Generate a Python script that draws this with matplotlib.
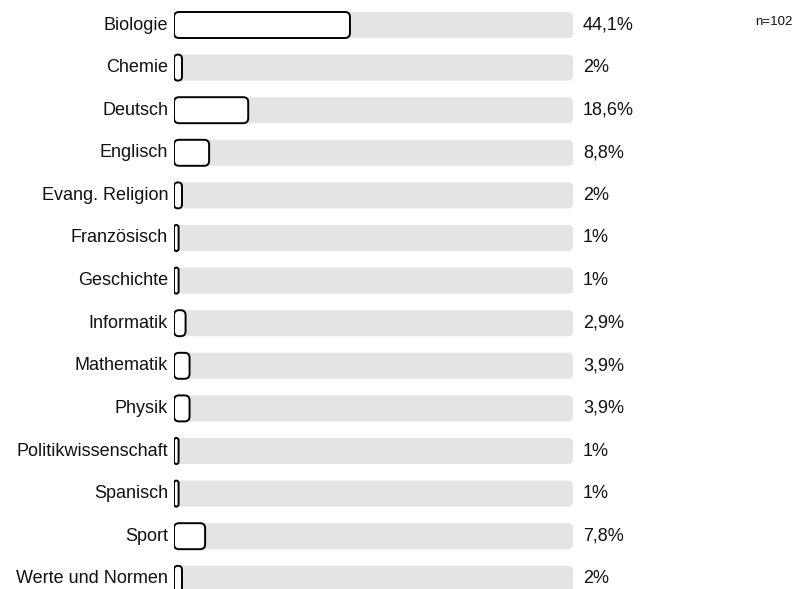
import matplotlib
matplotlib.use("Agg")
import matplotlib.pyplot as plt
from matplotlib.patches import FancyBboxPatch

# data
subjects = ["Biologie", "Chemie", "Deutsch", "Englisch", "Evang. Religion",
            "Französisch", "Geschichte", "Informatik", "Mathematik", "Physik",
            "Politikwissenschaft", "Spanisch", "Sport", "Werte und Normen"]
percents = [44.1, 2, 18.6, 8.8, 2, 1, 1, 2.9, 3.9, 3.9, 1, 1, 7.8, 2]
n_total = 102

plt.rcParams['font.family'] = ['Liberation Sans', 'DejaVu Sans']

W, H = 795, 589
fig = plt.figure(figsize=(W / 100, H / 100), dpi=100)

# pixel geometry of the plotting region
x0_px, x1_px = 174, 573
row_px = 42.6
first_px = 25
ax = fig.add_axes([x0_px / W, 0, (x1_px - x0_px) / W, 1])
ax.set_xlim(0, 100)
top = -first_px / row_px
bottom = top + H / row_px
ax.set_ylim(bottom, top)
ax.axis('off')

bar_h = 26 / row_px
xunit = (x1_px - x0_px) / 100.0      # px per percent
yunit = row_px                        # px per row
aspect = (1 / yunit) / (1 / xunit)    # y data per x data for equal pixels
radius = 5 / xunit

for i, (name, p) in enumerate(zip(subjects, percents)):
    # grey track
    track = FancyBboxPatch((0, i - bar_h / 2), 100, bar_h,
                           boxstyle=f"round,pad=0,rounding_size={radius}",
                           mutation_aspect=aspect,
                           facecolor='#e4e4e4', edgecolor='none', zorder=1)
    ax.add_patch(track)
    # white value bar
    w = max(p, 1.15)
    r = min(radius, w / 2)
    bar = FancyBboxPatch((0, i - bar_h / 2), w, bar_h,
                         boxstyle=f"round,pad=0,rounding_size={r}",
                         mutation_aspect=aspect,
                         facecolor='white', edgecolor='black', linewidth=1.4,
                         zorder=2)
    ax.add_patch(bar)
    ax.text(-6 / xunit, i, name, ha='right', va='center', fontsize=13,
            color='#111111', clip_on=False)
    label = f"{p:g}".replace('.', ',') + "%"
    ax.text(100 + 10 / xunit, i, label, ha='left', va='center', fontsize=13,
            color='#111111', clip_on=False)

fig.text(793 / W, 1 - 22 / H, f"n={n_total}", ha='right', va='center',
         fontsize=9.5, color='#111111')

fig.savefig("out.png", dpi=100)
